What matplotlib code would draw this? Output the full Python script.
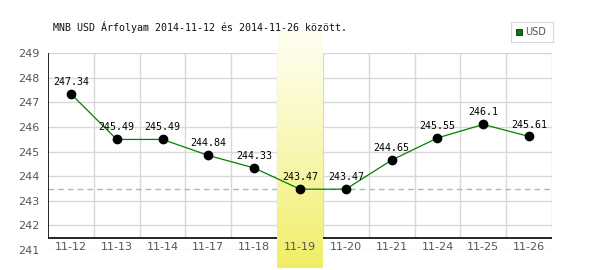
import numpy as np
import matplotlib.pyplot as plt
from matplotlib.transforms import blended_transform_factory

dates = ["11-12", "11-13", "11-14", "11-17", "11-18", "11-19",
         "11-20", "11-21", "11-24", "11-25", "11-26"]
usd = [247.34, 245.49, 245.49, 244.84, 244.33, 243.47,
       243.47, 244.65, 245.55, 246.1, 245.61]
labels = ["247.34", "245.49", "245.49", "244.84", "244.33", "243.47",
          "243.47", "244.65", "245.55", "246.1", "245.61"]
highlight = "11-19"
title = "MNB USD Árfolyam 2014-11-12 és 2014-11-26 között."

ymin, ymax = 241, 249
axis_y = 241.49   # where the black x axis line sits

fig = plt.figure(figsize=(6, 2.7), dpi=100)
fig.patch.set_facecolor("white")
ax = fig.add_axes([48/600, 20/270, 504/600, 197/270])
ax.patch.set_alpha(0)

x = np.arange(len(dates))
n = len(dates)

# grid
for v in range(ymin, ymax + 1):
    ax.axhline(v, color="#d8d8d8", lw=1, zorder=1)
ax.vlines(np.arange(n) + 0.5, axis_y, ymax, color="#d8d8d8", lw=1, zorder=1)
ax.axhline(min(usd), color="#98c898", lw=1, ls=(0, (4, 3)), zorder=1.2)

# axis lines
ax.plot([-0.5, -0.5], [axis_y, ymax], color="black", lw=1.2, zorder=2.4,
        solid_capstyle="butt")
ax.plot([-0.5, n - 0.5], [axis_y, axis_y], color="black", lw=1.2, zorder=2.4,
        solid_capstyle="butt")

# highlighted day band
hi = dates.index(highlight)
grad = np.linspace(0, 1, 200)[:, None]
top = np.array([254, 254, 240]) / 255
bot = np.array([240, 238, 100]) / 255
img = top + (bot - top) * grad[..., None] ** 1.2
img = img.reshape(200, 1, 3)
tr = blended_transform_factory(ax.transData, ax.transAxes)
ax.imshow(img, extent=[hi - 0.5, hi + 0.5, -0.09, 1.12], aspect="auto",
          transform=tr, clip_on=False, zorder=2.6, interpolation="bilinear")

# data
ax.plot(x, usd, color="#008000", lw=0.9, zorder=3)
ax.plot(x, usd, "o", color="black", ms=6, zorder=4)
for xi, yi, t in zip(x, usd, labels):
    ax.annotate(t, (xi, yi), xytext=(0, 5), textcoords="offset points",
                ha="center", va="bottom", fontsize=7.2, family="DejaVu Sans Mono",
                color="black", zorder=5)

ax.set_xlim(-0.5, n - 0.5)
ax.set_ylim(ymin, ymax)
for s in ax.spines.values():
    s.set_visible(False)

ax.set_yticks(range(ymin, ymax + 1))
ax.tick_params(axis="y", length=0, pad=6, labelsize=8, labelcolor="#555555")
ax.set_xticks(x)
ax.set_xticklabels([])
for xi, d in zip(x, dates):
    ax.text(xi, 241.14, d, ha="center", va="center", fontsize=8,
            color="#555555", zorder=5)
ax.tick_params(axis="x", length=0)

fig.text(53/600, 1 - 27/270, title, fontsize=7.2, family="DejaVu Sans Mono",
         va="center", ha="left", color="#111111")

# legend
leg_ax = fig.add_axes([511/600, 1 - 42/270, 42/600, 20/270])
leg_ax.set_xticks([])
leg_ax.set_yticks([])
for s in leg_ax.spines.values():
    s.set_color("#d8d8d8")
leg_ax.plot([0.2], [0.5], "s", color="#008000", mec="black", mew=0.5, ms=5)
leg_ax.text(0.33, 0.5, "USD", fontsize=7, color="#555555", va="center")
leg_ax.set_xlim(0, 1)
leg_ax.set_ylim(0, 1)

fig.savefig("out.png", dpi=100)
